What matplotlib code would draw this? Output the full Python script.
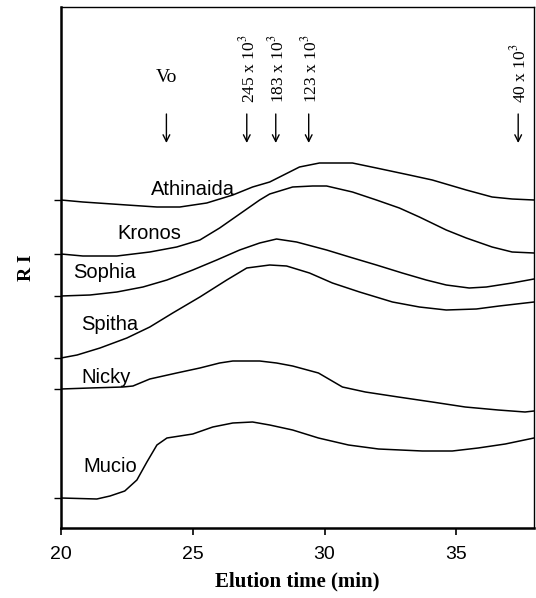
import matplotlib
matplotlib.use("Agg")
import matplotlib.pyplot as plt

plt.rcParams['mathtext.fontset'] = 'stix'

# ---- data (elution time in min, RI signal in arbitrary units) ----
t_athinaida = [20.0, 20.83, 22.5, 23.64, 24.51, 25.53, 26.52, 27.27, 27.92, 29.05, 29.81, 31.06,
               31.97, 33.22, 34.09, 35.38, 36.36, 37.12, 37.95]
ri_athinaida = [328, 326, 323, 321, 321, 325, 333, 341, 346, 361, 365, 365,
                360, 353, 348, 338, 331, 329, 328]

t_kronos = [20.0, 20.83, 22.12, 23.37, 24.39, 25.27, 26.02, 26.78, 27.54, 27.92, 28.79, 29.55,
            30.08, 31.06, 31.97, 32.84, 33.6, 34.62, 35.38, 36.36, 37.12, 37.95]
ri_kronos = [274, 272, 272, 276, 281, 288, 300, 314, 328, 334, 341, 342,
             342, 336, 328, 320, 311, 298, 290, 281, 276, 275]

t_sophia = [20.0, 21.1, 22.12, 23.11, 24.02, 25.0, 25.91, 26.78, 27.54, 28.18, 28.94, 30.08,
            30.95, 31.97, 32.95, 33.86, 34.62, 35.49, 36.14, 37.12, 37.95]
ri_sophia = [232, 233, 236, 241, 248, 258, 268, 278, 285, 289, 286, 278,
             271, 263, 255, 248, 243, 240, 241, 245, 249]

t_spitha = [20.0, 20.61, 21.48, 22.5, 23.37, 24.24, 25.27, 26.29, 27.05, 27.92, 28.56, 29.43,
            30.3, 31.33, 32.58, 33.6, 34.62, 35.76, 36.63, 37.95]
ri_spitha = [170, 173, 180, 190, 201, 215, 231, 248, 260, 263, 262, 255,
             245, 236, 226, 221, 218, 219, 222, 226]

t_nicky = [20.0, 21.1, 22.35, 22.73, 23.37, 24.39, 25.27, 26.02, 26.52, 27.54, 28.18, 28.79,
           29.77, 30.68, 31.55, 32.8, 34.09, 35.34, 36.59, 37.61, 37.95]
ri_nicky = [139, 140, 141, 142, 149, 155, 160, 165, 167, 167, 165, 162,
            155, 141, 136, 131, 126, 121, 118, 116, 117]

t_mucio = [20.0, 21.36, 21.86, 22.42, 22.88, 23.26, 23.64, 24.02, 24.51, 25.0, 25.76, 26.52,
           27.27, 27.92, 28.79, 29.77, 30.91, 32.05, 33.71, 34.85, 35.83, 36.86, 37.95]
ri_mucio = [30, 29, 32, 37, 48, 66, 83, 90, 92, 94, 101, 105,
            106, 103, 98, 90, 83, 79, 77, 77, 80, 84, 90]

series = [
    ("Athinaida", t_athinaida, ri_athinaida),
    ("Kronos", t_kronos, ri_kronos),
    ("Sophia", t_sophia, ri_sophia),
    ("Spitha", t_spitha, ri_spitha),
    ("Nicky", t_nicky, ri_nicky),
    ("Mucio", t_mucio, ri_mucio),
]

# label positions (time, RI)
label_t = [25.0, 23.37, 21.67, 21.86, 21.7, 21.86]
label_ri = [333, 289, 250, 198, 145, 56]

# molecular weight markers
marker_t = [24.0, 27.05, 28.15, 29.4, 37.35]
marker_text = ["Vo", r"245 x 10$^3$", r"183 x 10$^3$", r"123 x 10$^3$", r"40 x 10$^3$"]

x_ticks = [20, 25, 30, 35]

# ---- figure ----
fig = plt.figure(figsize=(5.36, 5.98), dpi=100)
ax = fig.add_axes([61 / 536, 70 / 598, (534 - 61) / 536, (528 - 7) / 598])

for (name, t, ri) in series:
    ax.plot(t, ri, color='black', lw=1.1)

for (name, _, _), lt, lr in zip(series, label_t, label_ri):
    ax.text(lt, lr, name, ha='center', va='baseline', fontsize=14.5,
            family='Liberation Sans', color='black')

for mt, txt in zip(marker_t, marker_text):
    ax.annotate('', xy=(mt, 385), xytext=(mt, 414),
                arrowprops=dict(arrowstyle='->', color='black', lw=1.0,
                                mutation_scale=12, shrinkA=0, shrinkB=0))
    if txt == "Vo":
        ax.text(mt, 451, txt, ha='center', va='center', fontsize=14,
                family='Liberation Serif')
    else:
        ax.text(mt + 0.05, 425, txt, ha='center', va='bottom', rotation=90,
                fontsize=12.5, family='Liberation Serif')

ax.set_xlim(20, 37.95)
ax.set_ylim(0, 521)
ax.set_xticks(x_ticks)
ax.set_xticklabels([str(v) for v in x_ticks], fontsize=14, family='Liberation Sans')
ax.set_yticks([s[2][0] for s in series])
ax.set_yticklabels([])
ax.tick_params(axis='x', direction='out', length=5, width=1.2, pad=8)
ax.tick_params(axis='y', direction='out', length=5, width=1.0)

ax.set_xlabel('Elution time (min)', fontsize=15, fontweight='bold',
              family='Liberation Serif', labelpad=6)
ax.set_ylabel('R I', fontsize=14, fontweight='bold', family='Liberation Serif',
              labelpad=10)

for side in ['left', 'bottom']:
    ax.spines[side].set_linewidth(1.8)
for side in ['top', 'right']:
    ax.spines[side].set_linewidth(1.0)

fig.savefig('out.png', dpi=100)
